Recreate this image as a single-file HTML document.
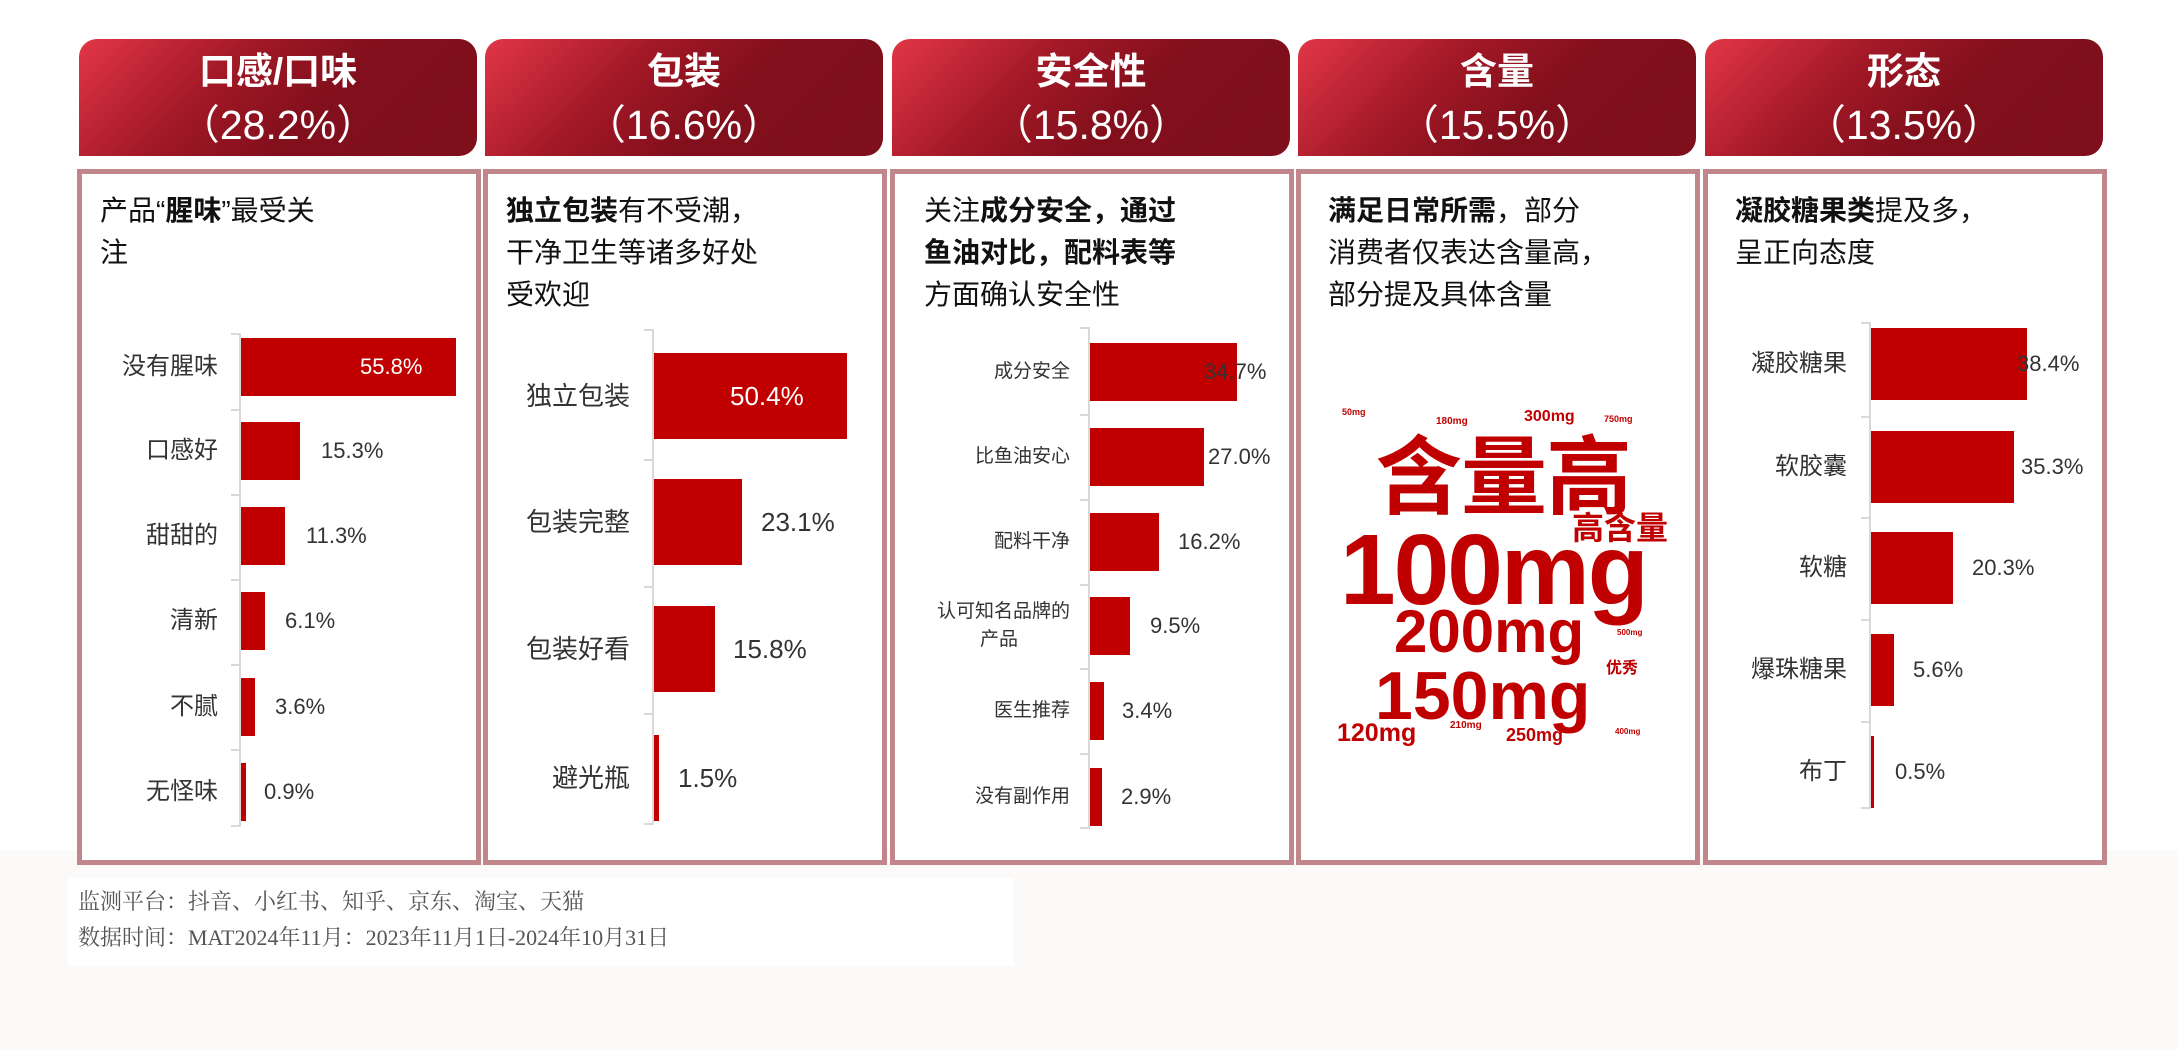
<!DOCTYPE html>
<html><head><meta charset="utf-8">
<style>
*{margin:0;padding:0;box-sizing:border-box}
body{width:2178px;height:1050px;background:#fff;position:relative;overflow:hidden;font-family:"Liberation Sans","Noto Sans CJK SC",sans-serif}
.a{position:absolute}
.hd{position:absolute;top:39px;height:117px;width:398px;border-radius:18px 18px 18px 0;background:linear-gradient(135deg,#e23647 0%,#a11826 35%,#820f1c 60%,#7e0f1b 100%);color:#fff;text-align:center;font-weight:bold}
.hd .t{font-size:37px;line-height:46px;margin-top:10px}
.hd .p{font-size:41px;line-height:60px;font-weight:normal}
.bx{position:absolute;top:169px;height:696px;width:404px;border:5px solid #c0868b;background:#fff}
.ttl{position:absolute;top:190px;font-size:28px;line-height:42px;color:#111;width:360px}
.ttl b{font-weight:bold}
.ax{position:absolute;width:2px;background:#d9d9d9}
.tk{position:absolute;height:2px;width:9px;background:#d9d9d9}
.bar{position:absolute;background:#c00000}
.lb{position:absolute;text-align:right;color:#333;white-space:nowrap}
.v{position:absolute;color:#333;white-space:nowrap}
.w{font-weight:bold;color:#c00000;position:absolute;white-space:nowrap;line-height:1}
</style></head><body>
<div class="a" style="left:0;top:850px;width:2178px;height:200px;background:#fbfaf8"></div>

<div class="hd" style="left:79px"><div class="t">口感/口味</div><div class="p">（28.2%）</div></div>
<div class="hd" style="left:485px"><div class="t">包装</div><div class="p">（16.6%）</div></div>
<div class="hd" style="left:892px"><div class="t">安全性</div><div class="p">（15.8%）</div></div>
<div class="hd" style="left:1298px"><div class="t">含量</div><div class="p">（15.5%）</div></div>
<div class="hd" style="left:1705px"><div class="t">形态</div><div class="p">（13.5%）</div></div>

<div class="bx" style="left:77px"></div>
<div class="bx" style="left:483px"></div>
<div class="bx" style="left:890px"></div>
<div class="bx" style="left:1296px"></div>
<div class="bx" style="left:1703px"></div>

<div class="ttl" style="left:100px">产品“<b>腥味</b>”最受关<br>注</div>
<div class="ttl" style="left:506px"><b>独立包装</b>有不受潮，<br>干净卫生等诸多好处<br>受欢迎</div>
<div class="ttl" style="left:924px">关注<b>成分安全，通过<br>鱼油对比，配料表等</b><br>方面确认安全性</div>
<div class="ttl" style="left:1328px"><b>满足日常所需</b>，部分<br>消费者仅表达含量高，<br>部分提及具体含量</div>
<div class="ttl" style="left:1735px"><b>凝胶糖果类</b>提及多，<br>呈正向态度</div>

<!-- chart 1 -->
<div class="ax" style="left:239px;top:333px;height:494px"></div>
<div class="tk" style="left:231px;top:333px"></div><div class="tk" style="left:231px;top:409px"></div><div class="tk" style="left:231px;top:494px"></div><div class="tk" style="left:231px;top:579px"></div><div class="tk" style="left:231px;top:664px"></div><div class="tk" style="left:231px;top:749px"></div><div class="tk" style="left:231px;top:825px"></div>
<div class="bar" style="left:241px;top:338px;width:215px;height:58px"></div>
<div class="bar" style="left:241px;top:422px;width:59px;height:58px"></div>
<div class="bar" style="left:241px;top:507px;width:44px;height:58px"></div>
<div class="bar" style="left:241px;top:592px;width:24px;height:58px"></div>
<div class="bar" style="left:241px;top:678px;width:14px;height:58px"></div>
<div class="bar" style="left:241px;top:763px;width:5px;height:58px"></div>
<div style="font-size:24px;line-height:58px">
<div class="lb" style="right:1960px;top:338px">没有腥味</div>
<div class="lb" style="right:1960px;top:422px">口感好</div>
<div class="lb" style="right:1960px;top:507px">甜甜的</div>
<div class="lb" style="right:1960px;top:592px">清新</div>
<div class="lb" style="right:1960px;top:678px">不腻</div>
<div class="lb" style="right:1960px;top:763px">无怪味</div>
</div>
<div style="font-size:22px;line-height:58px">
<div class="v" style="left:360px;top:338px;color:#fff">55.8%</div>
<div class="v" style="left:321px;top:422px">15.3%</div>
<div class="v" style="left:306px;top:507px">11.3%</div>
<div class="v" style="left:285px;top:592px">6.1%</div>
<div class="v" style="left:275px;top:678px">3.6%</div>
<div class="v" style="left:264px;top:763px">0.9%</div>
</div>

<!-- chart 2 -->
<div class="ax" style="left:652px;top:329px;height:496px"></div>
<div class="tk" style="left:644px;top:329px"></div><div class="tk" style="left:644px;top:459px"></div><div class="tk" style="left:644px;top:586px"></div><div class="tk" style="left:644px;top:713px"></div><div class="tk" style="left:644px;top:823px"></div>
<div class="bar" style="left:654px;top:353px;width:193px;height:86px"></div>
<div class="bar" style="left:654px;top:479px;width:88px;height:86px"></div>
<div class="bar" style="left:654px;top:606px;width:61px;height:86px"></div>
<div class="bar" style="left:654px;top:735px;width:5px;height:86px"></div>
<div style="font-size:26px;line-height:86px">
<div class="lb" style="right:1548px;top:353px">独立包装</div>
<div class="lb" style="right:1548px;top:479px">包装完整</div>
<div class="lb" style="right:1548px;top:606px">包装好看</div>
<div class="lb" style="right:1548px;top:735px">避光瓶</div>
</div>
<div style="font-size:26px;line-height:86px">
<div class="v" style="left:730px;top:353px;color:#fff">50.4%</div>
<div class="v" style="left:761px;top:479px">23.1%</div>
<div class="v" style="left:733px;top:606px">15.8%</div>
<div class="v" style="left:678px;top:735px">1.5%</div>
</div>

<!-- chart 3 -->
<div class="ax" style="left:1088px;top:327px;height:502px"></div>
<div class="tk" style="left:1080px;top:327px"></div><div class="tk" style="left:1080px;top:414px"></div><div class="tk" style="left:1080px;top:499px"></div><div class="tk" style="left:1080px;top:584px"></div><div class="tk" style="left:1080px;top:668px"></div><div class="tk" style="left:1080px;top:753px"></div><div class="tk" style="left:1080px;top:827px"></div>
<div class="bar" style="left:1090px;top:343px;width:147px;height:58px"></div>
<div class="bar" style="left:1090px;top:428px;width:114px;height:58px"></div>
<div class="bar" style="left:1090px;top:513px;width:69px;height:58px"></div>
<div class="bar" style="left:1090px;top:597px;width:40px;height:58px"></div>
<div class="bar" style="left:1090px;top:682px;width:14px;height:58px"></div>
<div class="bar" style="left:1090px;top:768px;width:12px;height:58px"></div>
<div style="font-size:19px;line-height:58px">
<div class="lb" style="right:1108px;top:343px">成分安全</div>
<div class="lb" style="right:1108px;top:428px">比鱼油安心</div>
<div class="lb" style="right:1108px;top:513px">配料干净</div>
<div class="lb" style="right:1108px;top:597px;line-height:28px;top:598px">认可知名品牌的<br><span style="padding-right:52px">产品</span></div>
<div class="lb" style="right:1108px;top:682px">医生推荐</div>
<div class="lb" style="right:1108px;top:768px">没有副作用</div>
</div>
<div style="font-size:22px;line-height:58px">
<div class="v" style="left:1204px;top:343px">34.7%</div>
<div class="v" style="left:1208px;top:428px">27.0%</div>
<div class="v" style="left:1178px;top:513px">16.2%</div>
<div class="v" style="left:1150px;top:597px">9.5%</div>
<div class="v" style="left:1122px;top:682px">3.4%</div>
<div class="v" style="left:1121px;top:768px">2.9%</div>
</div>

<!-- chart 4 word cloud -->
<div class="w" style="left:1342px;top:408px;font-size:9px">50mg</div>
<div class="w" style="left:1436px;top:417px;font-size:10px">180mg</div>
<div class="w" style="left:1524px;top:409px;font-size:16px">300mg</div>
<div class="w" style="left:1604px;top:415px;font-size:9px">750mg</div>
<div class="w" style="left:1376px;top:425px;font-size:86px;letter-spacing:-1px;font-family:'Noto Sans CJK SC',sans-serif;line-height:1.05">含量高</div>
<div class="w" style="left:1572px;top:510px;font-size:32px;font-family:'Noto Sans CJK SC',sans-serif;line-height:1.05">高含量</div>
<div class="w" style="left:1340px;top:520px;font-size:100px;letter-spacing:-2px">100mg</div>
<div class="w" style="left:1394px;top:602px;font-size:60px">200mg</div>
<div class="w" style="left:1617px;top:629px;font-size:8px">500mg</div>
<div class="w" style="left:1606px;top:658px;font-size:16px;font-family:'Noto Sans CJK SC',sans-serif">优秀</div>
<div class="w" style="left:1375px;top:662px;font-size:68px">150mg</div>
<div class="w" style="left:1337px;top:721px;font-size:25px">120mg</div>
<div class="w" style="left:1450px;top:721px;font-size:10px">210mg</div>
<div class="w" style="left:1506px;top:726px;font-size:18px">250mg</div>
<div class="w" style="left:1615px;top:728px;font-size:8px">400mg</div>

<!-- chart 5 -->
<div class="ax" style="left:1869px;top:322px;height:487px"></div>
<div class="tk" style="left:1861px;top:322px"></div><div class="tk" style="left:1861px;top:416px"></div><div class="tk" style="left:1861px;top:517px"></div><div class="tk" style="left:1861px;top:619px"></div><div class="tk" style="left:1861px;top:721px"></div><div class="tk" style="left:1861px;top:807px"></div>
<div class="bar" style="left:1871px;top:328px;width:156px;height:72px"></div>
<div class="bar" style="left:1871px;top:431px;width:143px;height:72px"></div>
<div class="bar" style="left:1871px;top:532px;width:82px;height:72px"></div>
<div class="bar" style="left:1871px;top:634px;width:23px;height:72px"></div>
<div class="bar" style="left:1871px;top:736px;width:3px;height:72px"></div>
<div style="font-size:24px;line-height:72px">
<div class="lb" style="right:331px;top:328px">凝胶糖果</div>
<div class="lb" style="right:331px;top:431px">软胶囊</div>
<div class="lb" style="right:331px;top:532px">软糖</div>
<div class="lb" style="right:331px;top:634px">爆珠糖果</div>
<div class="lb" style="right:331px;top:736px">布丁</div>
</div>
<div style="font-size:22px;line-height:72px">
<div class="v" style="left:2017px;top:328px">38.4%</div>
<div class="v" style="left:2021px;top:431px">35.3%</div>
<div class="v" style="left:1972px;top:532px">20.3%</div>
<div class="v" style="left:1913px;top:634px">5.6%</div>
<div class="v" style="left:1895px;top:736px">0.5%</div>
</div>

<div class="a" style="left:68px;top:878px;width:945px;height:88px;background:#fff"></div>
<div class="a" style="left:78px;top:884px;font-family:'Liberation Serif','Noto Serif CJK SC',serif;font-size:22px;line-height:36px;color:#555">监测平台：抖音、小红书、知乎、京东、淘宝、天猫<br>数据时间：MAT2024年11月：2023年11月1日-2024年10月31日</div>
</body></html>
